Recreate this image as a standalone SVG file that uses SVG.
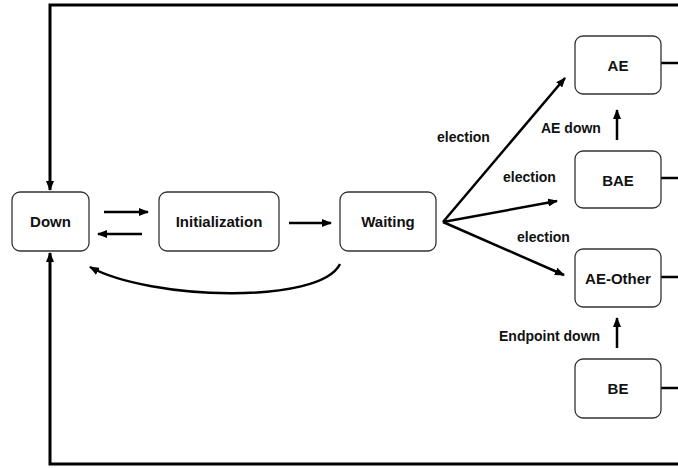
<svg xmlns="http://www.w3.org/2000/svg" width="678" height="468" viewBox="0 0 678 468">
<defs>
<marker id="ah" viewBox="0 0 10 8" refX="9" refY="4" markerWidth="10" markerHeight="8" markerUnits="userSpaceOnUse" orient="auto">
<path d="M0,0 L10,4 L0,8 Z" fill="#000"/>
</marker>
</defs>
<style>
.box{fill:#fff;stroke:#333;stroke-width:1.3}
.lbl{font-family:"Liberation Sans",Arial,sans-serif;font-weight:bold;font-size:15px;fill:#111;text-anchor:middle;dominant-baseline:central}
.el{font-family:"Liberation Sans",Arial,sans-serif;font-weight:bold;font-size:14px;fill:#111}
.c{fill:none;stroke:#000;stroke-width:2.5}
.f{fill:none;stroke:#000;stroke-width:3}
</style>
<rect width="678" height="468" fill="#fff"/>
<g id="connectors">
<path class="f" d="M678,5 H50 V190" marker-end="url(#ah)"/>
<path class="f" d="M678,464 H50 V253" marker-end="url(#ah)"/>
<path class="c" d="M104,212 H148" marker-end="url(#ah)"/>
<path class="c" d="M142,234 H98" marker-end="url(#ah)"/>
<path class="c" d="M289,223 H331" marker-end="url(#ah)"/>
<path class="c" d="M340,264 C320,305 150,300 90,267" marker-end="url(#ah)"/>
<path class="c" d="M443,222 L565,78" marker-end="url(#ah)"/>
<path class="c" d="M443,222 L557,201" marker-end="url(#ah)"/>
<path class="c" d="M443,222 L564,275" marker-end="url(#ah)"/>
<path class="c" d="M617,140 V110" marker-end="url(#ah)"/>
<path class="c" d="M617,348 V318" marker-end="url(#ah)"/>
<path class="c" d="M661,63 H678"/>
<path class="c" d="M661,178 H678"/>
<path class="c" d="M661,277 H678"/>
<path class="c" d="M661,388 H678"/>
<text class="el" x="437" y="142">election</text>
<text class="el" x="503" y="182">election</text>
<text class="el" x="517" y="242">election</text>
<text class="el" x="541" y="133">AE down</text>
<text class="el" x="499" y="341">Endpoint down</text>
</g>
<g id="down"><rect class="box" x="12" y="192" width="77" height="59" rx="8"/><text class="lbl" x="50.5" y="221.5">Down</text></g>
<g id="init"><rect class="box" x="159" y="192" width="120" height="59" rx="8"/><text class="lbl" x="219" y="221.5">Initialization</text></g>
<g id="waiting"><rect class="box" x="340" y="192" width="96" height="59" rx="8"/><text class="lbl" x="388" y="221.5">Waiting</text></g>
<g id="ae"><rect class="box" x="575" y="36" width="86" height="58" rx="8"/><text class="lbl" x="618" y="65">AE</text></g>
<g id="bae"><rect class="box" x="575" y="151" width="86" height="57" rx="8"/><text class="lbl" x="618" y="180">BAE</text></g>
<g id="ae-other"><rect class="box" x="575" y="249" width="86" height="58" rx="8"/><text class="lbl" x="618" y="278">AE-Other</text></g>
<g id="be"><rect class="box" x="575" y="359" width="86" height="59" rx="8"/><text class="lbl" x="618" y="388">BE</text></g>
</svg>
